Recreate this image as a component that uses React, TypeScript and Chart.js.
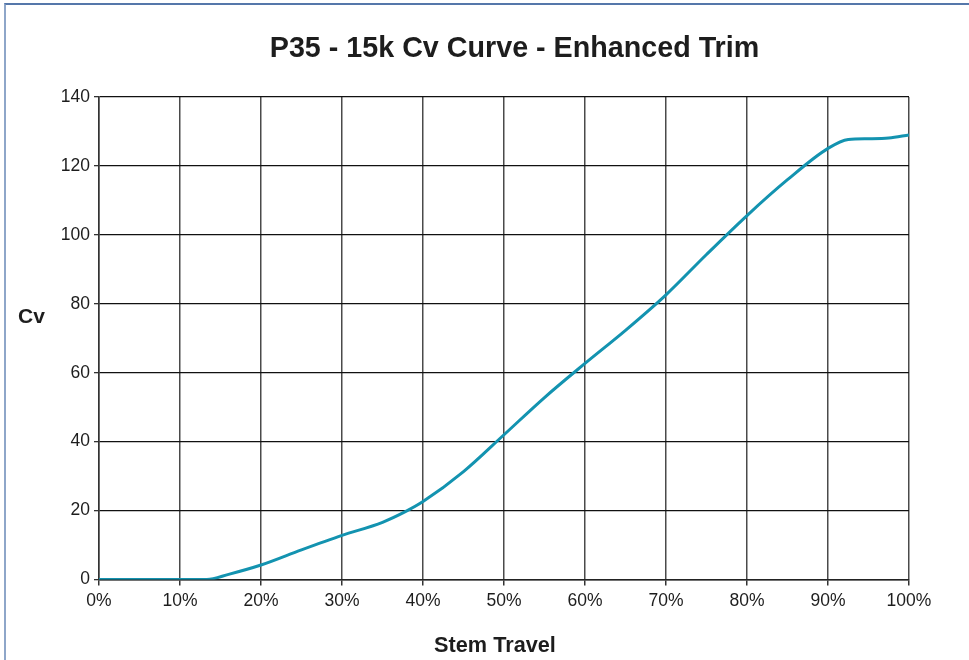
import React, { useEffect, useRef } from "react";
import { Chart, registerables } from "chart.js";

Chart.register(...registerables);

const stemTravel: number[] = [0, 5, 10, 13.3, 16, 20, 25, 30, 35, 38, 40, 45, 50, 55, 60, 65, 70, 75, 80, 85, 90, 92.5, 95, 97.5, 100];
const cvValues: number[] = [0, 0, 0, 0, 1.5, 4.2, 8.6, 12.8, 16.6, 19.9, 22.6, 31.3, 42, 52.8, 62.7, 72.3, 82.6, 94.3, 105.6, 116, 125.1, 127.7, 127.9, 128.1, 129];
const titleText = "P35 - 15k Cv Curve - Enhanced Trim";
const xAxisTitle = "Stem Travel";
const yAxisTitle = "Cv";
const xTickMax = 100;
const yTickMax = 140;

const FONT = "'Liberation Sans', Arial, sans-serif";

const textPlugin = {
  id: "extraTexts",
  afterDraw(chart: any) {
    const ctx = chart.ctx;
    ctx.save();
    ctx.fillStyle = "#1d1d1d";
    ctx.textBaseline = "alphabetic";
    ctx.textAlign = "center";
    ctx.font = `bold 28.7px ${FONT}`;
    ctx.fillText(titleText, 514.5, 57);
    ctx.font = `bold 21.7px ${FONT}`;
    ctx.fillText(xAxisTitle, 495, 652);
    ctx.textAlign = "left";
    ctx.font = `bold 21px ${FONT}`;
    ctx.fillText(yAxisTitle, 18, 323);
    ctx.restore();
  },
};

export default function App() {
  const ref = useRef<HTMLCanvasElement | null>(null);
  useEffect(() => {
    if (!ref.current) return;
    const chart = new Chart(ref.current, {
      type: "line",
      data: {
        datasets: [
          {
            data: stemTravel.map((x, i) => ({ x, y: cvValues[i] })),
            borderColor: "#1393b0",
            borderWidth: 3,
            pointRadius: 0,
            cubicInterpolationMode: "monotone",
            fill: false,
          },
        ],
      },
      options: {
        animation: false,
        responsive: false,
        maintainAspectRatio: false,
        layout: { padding: { top: 97, right: 60, left: 0, bottom: 0 } },
        plugins: {
          legend: { display: false },
          title: { display: false },
          tooltip: { enabled: false },
        },
        scales: {
          x: {
            type: "linear",
            min: 0,
            max: xTickMax,
            afterFit: (s: any) => {
              s.height = 80.5;
            },
            ticks: {
              stepSize: 10,
              padding: 5,
              color: "#1d1d1d",
              font: { family: FONT, size: 17.5 },
              callback: (v: any) => `${v}%`,
            },
            grid: {
              color: "#4a4a4a",
              lineWidth: 1.5,
              tickLength: 6,
              tickColor: "#333",
            },
            border: { display: true, color: "#222", width: 1.5 },
          },
          y: {
            min: 0,
            max: yTickMax,
            afterFit: (s: any) => {
              s.width = 99;
            },
            ticks: {
              stepSize: 20,
              padding: 4,
              color: "#1d1d1d",
              font: { family: FONT, size: 17.5 },
            },
            grid: {
              color: "#111",
              lineWidth: 1.3,
              tickLength: 5,
              tickColor: "#333",
            },
            border: { display: true, color: "#333", width: 1.5 },
          },
        },
      },
      plugins: [textPlugin],
    });
    return () => chart.destroy();
  }, []);

  return (
    <div style={{ position: "fixed", left: 0, top: 0, width: 969, height: 660, background: "#fff", overflow: "hidden" }}>
      <div
        style={{
          position: "absolute",
          left: 4,
          top: 3,
          width: 1200,
          height: 900,
          borderTop: "2px solid #5577aa",
          borderLeft: "2px solid #8ea6c9",
        }}
      />
      <canvas ref={ref} width={969} height={660} style={{ position: "absolute", left: 0, top: 0, width: 969, height: 660 }} />
    </div>
  );
}
